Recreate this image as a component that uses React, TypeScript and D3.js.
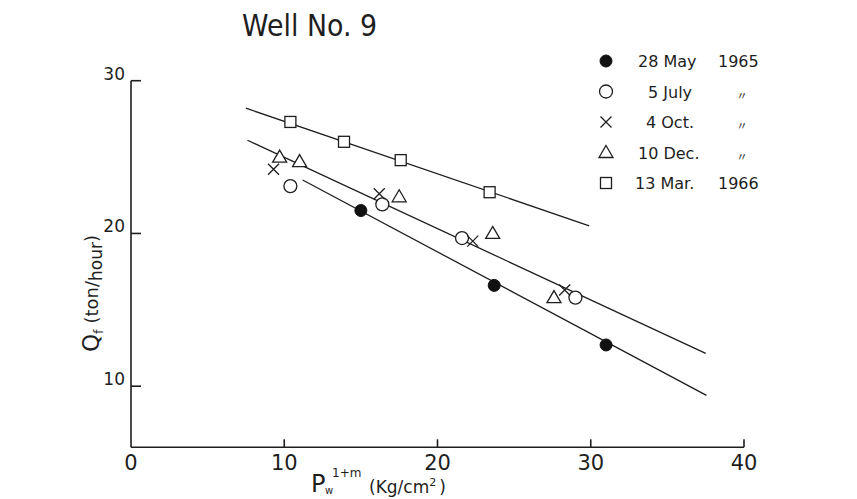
import { useRef, useEffect } from 'react'
import * as d3 from 'd3'

// readings taken off the plot (x = Pw^(1+m), y = Qf)
const mayX = [15.0, 23.7, 31.0]
const mayY = [21.5, 16.6, 12.7]
const julyX = [10.4, 16.4, 21.6, 29.0]
const julyY = [23.1, 21.9, 19.7, 15.8]
const octX = [9.3, 16.2, 22.3, 28.3]
const octY = [24.2, 22.6, 19.5, 16.3]
const decX = [9.7, 11.0, 17.5, 23.6, 27.6]
const decY = [25.0, 24.7, 22.4, 20.0, 15.8]
const marX = [10.4, 13.9, 17.6, 23.4]
const marY = [27.3, 26.0, 24.8, 22.7]

// hand drawn fit lines: [x1, y1, x2, y2]
const fitLines = [
  [7.5, 28.2, 29.9, 20.5],
  [7.6, 26.1, 37.5, 12.15],
  [11.2, 23.5, 37.55, 9.4],
]

const xTicks = [0, 10, 20, 30, 40]
const yTicks = [10, 20, 30]
const legendDates = ['28 May', '5 July', '4 Oct.', '10 Dec.', '13 Mar.']
const legendYears = ['1965', '〃', '〃', '〃', '1966']
const legendShapes = ['filled', 'circle', 'cross', 'triangle', 'square']

const W = 857
const H = 499
const FONT = '"DejaVu Sans", sans-serif'
const INK = '#1e1e1e'

const drawMarker = (g, shape, cx, cy) => {
  if (shape === 'filled') {
    g.append('circle').attr('cx', cx).attr('cy', cy).attr('r', 6).attr('fill', '#111').attr('stroke', '#111')
  } else if (shape === 'circle') {
    g.append('circle').attr('cx', cx).attr('cy', cy).attr('r', 6.5).attr('fill', '#fff').attr('stroke', INK).attr('stroke-width', 1.3)
  } else if (shape === 'cross') {
    const s = 5.5
    g.append('path')
      .attr('d', `M${cx - s},${cy - s}L${cx + s},${cy + s}M${cx - s},${cy + s}L${cx + s},${cy - s}`)
      .attr('stroke', INK)
      .attr('stroke-width', 1.3)
  } else if (shape === 'triangle') {
    g.append('path')
      .attr('d', `M${cx},${cy - 7}L${cx + 7},${cy + 5}L${cx - 7},${cy + 5}Z`)
      .attr('fill', '#fff')
      .attr('stroke', INK)
      .attr('stroke-width', 1.3)
  } else {
    g.append('rect')
      .attr('x', cx - 5.5)
      .attr('y', cy - 5.5)
      .attr('width', 11)
      .attr('height', 11)
      .attr('fill', '#fff')
      .attr('stroke', INK)
      .attr('stroke-width', 1.3)
  }
}

const App = () => {
  const svgRef = useRef(null)

  useEffect(() => {
    const svg = d3.select(svgRef.current)
    svg.selectAll('*').remove()

    const x = d3.scaleLinear().domain([0, 40]).range([131, 744])
    const y = d3.scaleLinear().domain([6, 30]).range([447.3, 80.7])

    svg.append('rect').attr('width', W).attr('height', H).attr('fill', '#fff')

    // title
    svg
      .append('text')
      .text('Well No. 9')
      .attr('x', 242)
      .attr('y', 36)
      .attr('textLength', 135)
      .attr('lengthAdjust', 'spacingAndGlyphs')
      .style('font-family', FONT)
      .style('font-size', '30px')
      .attr('fill', INK)

    // axes
    const axes = svg.append('g').attr('stroke', INK).attr('stroke-width', 1.6).attr('fill', 'none')
    axes.append('line').attr('x1', x(0)).attr('x2', x(40)).attr('y1', y(6)).attr('y2', y(6))
    axes.append('line').attr('x1', x(0)).attr('x2', x(0)).attr('y1', y(6)).attr('y2', y(30))
    xTicks
      .filter((t) => t > 0)
      .forEach((t) => {
        axes.append('line').attr('x1', x(t)).attr('x2', x(t)).attr('y1', y(6)).attr('y2', y(6) - 8)
      })
    yTicks.forEach((t) => {
      axes.append('line').attr('x1', x(0)).attr('x2', x(0) + 10).attr('y1', y(t)).attr('y2', y(t))
    })

    xTicks.forEach((t) => {
      svg
        .append('text')
        .text(t)
        .attr('x', x(t))
        .attr('y', 470)
        .attr('text-anchor', 'middle')
        .style('font-family', FONT)
        .style('font-size', '21px')
        .attr('fill', INK)
    })
    yTicks.forEach((t) => {
      svg
        .append('text')
        .text(t)
        .attr('x', 125)
        .attr('y', y(t) - 1)
        .attr('text-anchor', 'end')
        .style('font-family', FONT)
        .style('font-size', '17px')
        .attr('fill', INK)
    })

    // axis titles
    const yl = svg
      .append('text')
      .attr('transform', 'translate(99,352) rotate(-90)')
      .style('font-family', FONT)
      .attr('fill', INK)
    yl.append('tspan').text('Q').style('font-size', '23px')
    yl.append('tspan').text('f').style('font-size', '13px').attr('dy', 4)
    yl.append('tspan').text(' (ton/').style('font-size', '18px').attr('dy', -5)
    yl.append('tspan').text('hour').style('font-size', '17px').attr('dy', 4)
    yl.append('tspan').text(')').style('font-size', '18px').attr('dy', -4)

    svg.append('text').text('P').attr('x', 311).attr('y', 492).style('font-family', FONT).style('font-size', '24px').attr('fill', INK)
    svg.append('text').text('w').attr('x', 325).attr('y', 494).style('font-family', FONT).style('font-size', '10px').attr('fill', INK)
    svg.append('text').text('1+m').attr('x', 332).attr('y', 477).style('font-family', FONT).style('font-size', '12px').attr('fill', INK)
    const xl = svg.append('text').attr('x', 369).attr('y', 493).style('font-family', FONT).style('font-size', '17px').attr('fill', INK)
    xl.append('tspan').text('(Kg/cm')
    xl.append('tspan').text('2').style('font-size', '11px').attr('dy', -7)
    xl.append('tspan').text(')').attr('dy', 7).attr('dx', 3)

    // fit lines
    const line = d3
      .line()
      .x((d) => x(d[0]))
      .y((d) => y(d[1]))
    fitLines.forEach((l) => {
      svg
        .append('path')
        .attr('d', line([[l[0], l[1]], [l[2], l[3]]]))
        .attr('stroke', INK)
        .attr('stroke-width', 1.3)
        .attr('fill', 'none')
    })

    // observations
    const marks = svg.append('g')
    const series = [
      ['filled', mayX, mayY],
      ['circle', julyX, julyY],
      ['cross', octX, octY],
      ['triangle', decX, decY],
      ['square', marX, marY],
    ]
    series.forEach(([shape, xs, ys]) => {
      xs.forEach((v, i) => drawMarker(marks, shape, x(v), y(ys[i])))
    })

    // legend
    const leg = svg.append('g')
    legendDates.forEach((d, i) => {
      const cy = 61 + i * 30.5
      drawMarker(leg, legendShapes[i], 606, cy)
      leg
        .append('text')
        .text(d)
        .attr('x', i === 1 ? 648 : i === 2 ? 646 : i === 4 ? 635 : 638)
        .attr('y', cy + 6)
        .style('font-family', FONT)
        .style('font-size', '16px')
        .attr('fill', INK)
      const isDitto = legendYears[i] === '〃'
      leg
        .append('text')
        .text(legendYears[i])
        .attr('x', isDitto ? 742 : 718)
        .attr('y', isDitto ? cy + 8 : cy + 6)
        .attr('text-anchor', isDitto ? 'middle' : 'start')
        .style('font-family', isDitto ? '"Noto Sans CJK JP", sans-serif' : FONT)
        .style('font-size', isDitto ? '11px' : '16px')
        .attr('fill', INK)
    })
  }, [])

  return (
    <div style={{ position: 'absolute', left: 0, top: 0 }}>
      <svg ref={svgRef} width={W} height={H} style={{ display: 'block' }}></svg>
    </div>
  )
}

export default App
